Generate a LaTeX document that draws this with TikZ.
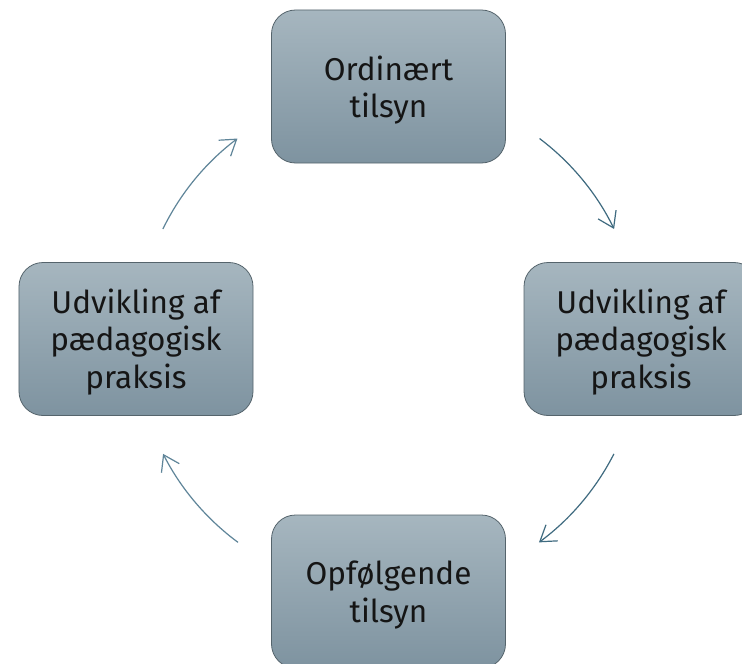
\documentclass[tikz,border=0pt]{standalone}
\usepackage{fontspec}
\setmainfont{Fira Sans}
\usetikzlibrary{arrows.meta,calc}
\definecolor{boxtop}{HTML}{A6B6BF}
\definecolor{boxbot}{HTML}{7E93A0}
\definecolor{boxedge}{HTML}{55646C}
\definecolor{arrdark}{HTML}{3F6B80}
\definecolor{arrlight}{HTML}{5F8599}
\definecolor{txt}{HTML}{151515}
\tikzset{
  stepbox/.style={rectangle, rounded corners=24bp, minimum width=234bp, minimum height=153bp,
    draw=boxedge, line width=0.8bp, top color=boxtop, bottom color=boxbot, inner sep=0pt},
  boxtext/.style={align=center, text=txt, font=\fontsize{31.5bp}{37.5bp}\selectfont, inner sep=0pt},
  cyc/.style={line width=1.2bp, -{Straight Barb[length=15bp,width=20bp,line width=1.2bp]}}
}
\begin{document}
\begin{tikzpicture}[x=1bp,y=-1bp]
\useasboundingbox (0,0) rectangle (742,664);
\fill[white] (0,0) rectangle (742,664);
\node[stepbox] (top) at (388.5,86.5) {};
\node[stepbox] (right) at (641,339) {};
\node[stepbox] (left) at (136,339) {};
\node[stepbox] (bottom) at (388.5,591.5) {};
\node[boxtext] (ttop) at ([yshift=-3.5bp]top.center) {Ordinært\\tilsyn};
\node[boxtext] (tright) at ([yshift=-3bp]right.center) {Udvikling af\\pædagogisk\\praksis};
\node[boxtext] (tleft) at ([yshift=-3bp]left.center) {Udvikling af\\pædagogisk\\praksis};
\node[boxtext] (tbottom) at ([yshift=-3.5bp]bottom.center) {Opfølgende\\tilsyn};
\coordinate (C) at (388.5,339);
\coordinate (a1) at ($(C)+(53:251bp)$);
\coordinate (a2) at ($(C)+(-27:253bp)$);
\coordinate (a3) at ($(C)+(-126.5:253bp)$);
\coordinate (a4) at ($(C)+(154:251bp)$);
\draw[cyc, arrdark] (a1) arc[start angle=53, end angle=26, radius=251bp];
\draw[cyc, arrdark] (a2) arc[start angle=-27, end angle=-53.5, radius=253bp];
\draw[cyc, arrlight] (a3) arc[start angle=-126.5, end angle=-153, radius=253bp];
\draw[cyc, arrlight] (a4) arc[start angle=154, end angle=127, radius=251bp];
\end{tikzpicture}
\end{document}
